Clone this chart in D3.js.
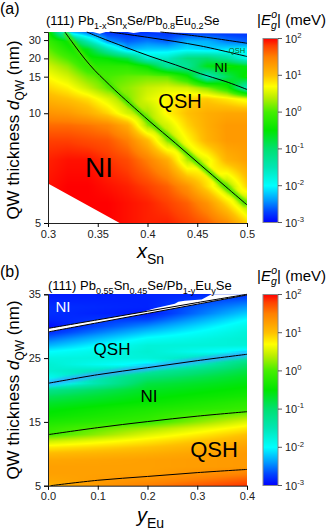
<!DOCTYPE html>
<html lang="en">
<head>
<meta charset="utf-8">
<script src="https://cdn.jsdelivr.net/npm/d3@7"></script>
<style>
  body { margin: 0; background: #fff; }
  svg { display: block; font-family: "Liberation Sans", Arial, sans-serif; }
</style>
</head>
<body>
<div id="chart"></div>
<script>
// colour map: log10 |Eg| (meV) -> colour
var cmapStops  = [-3, -2.7, -2.4, -2.0, -1.5, -1.0, -0.5, 0, 0.4, 0.7, 1.0, 1.5, 1.8, 2.0];
var cmapColors = ["#0000ff","#0044ff","#0099ff","#00ffff","#00e6b4","#00e070","#00e600",
                  "#44ee00","#bbee00","#ffff00","#ffc000","#ff8000","#ff4000","#ff0000"];
var cbarExps = [2, 1, 0, -1, -2, -3];

// ---- panel (a): log10|Eg| on x_Sn x d_QW grid ----
var xSnCols = [0.30, 0.32, 0.34, 0.36, 0.38, 0.40, 0.42, 0.44, 0.46, 0.48, 0.50];
var dRowsA  = [5, 5.5, 6, 7, 8, 9, 10, 11.5, 13, 15, 17.5, 20, 24, 29, 38.5];
var gapA = [
  [2.0, 2.0, 2.0, 2.0, 1.95, 1.9, 1.9, 1.8, 1.65, 1.4, 0.9],        // d=5
  [2.0, 2.0, 2.0, 2.0, 1.95, 1.9, 1.8, 1.65, 1.35, 0.85, 0.3],      // 5.5
  [1.95, 2.0, 2.0, 1.95, 1.9, 1.8, 1.65, 1.35, 0.85, 0.3, 0.9],     // 6
  [1.9, 1.95, 1.95, 1.85, 1.75, 1.5, 1.15, 0.4, 0.6, 1.1, 1.25],    // 7
  [1.8, 1.8, 1.75, 1.7, 1.5, 1.05, 0.3, 0.7, 1.1, 1.3, 1.3],        // 8
  [1.6, 1.6, 1.55, 1.45, 1.15, 0.3, 0.5, 0.9, 1.15, 1.3, 1.3],      // 9
  [1.35, 1.3, 1.15, 0.9, 0.5, 0.3, 0.75, 1.0, 1.15, 1.2, 1.2],      // 10
  [1.1, 1.0, 0.85, 0.55, 0.2, 0.55, 0.75, 0.9, 0.95, 0.8, 0.6],     // 11.5
  [0.9, 0.75, 0.45, 0.1, 0.25, 0.45, 0.55, 0.5, 0.2, -0.3, -1.6],   // 13
  [0.7, 0.5, 0.15, 0.0, 0.1, 0.15, 0.1, -0.4, -1.6, -0.9, -0.4],    // 15
  [0.5, 0.25, -0.2, -0.2, -0.2, -0.5, -1.3, -1.3, -0.6, -0.4, -0.6],// 17.5
  [0.3, 0.0, -0.4, -0.5, -0.8, -1.7, -1.6, -1.1, -1.0, -1.3, -1.9], // 20
  [0.1, -0.3, -0.6, -1.5, -2.3, -2.2, -2.2, -2.1, -2.2, -2.1, -2.0],// 24
  [-0.1, -0.5, -1.5, -2.4, -2.6, -2.5, -2.6, -2.3, -2.3, -2.5, -2.6],// 29
  [-0.3, -2.2, -2.6, -2.8, -2.8, -2.8, -2.8, -2.8, -2.8, -2.8, -2.8] // 38.5
];
// band-inversion lines (x_Sn, d_QW)
var linesA = [
  [[0.317,38.5],[0.327,25.9],[0.337,19.8],[0.347,16.4],[0.357,14.3],[0.367,12.7],
   [0.382,10.98],[0.4025,9.29],[0.428,7.86],[0.453,6.81],[0.478,6.01],[0.5,5.45]],
  [[0.339,38.5],[0.352,32.4],[0.377,25.3],[0.4025,20.8],[0.428,17.9],[0.453,15.65],[0.478,14.1],[0.5,12.77]],
  [[0.362,38.5],[0.4025,32.1],[0.453,25.9],[0.5,20.7]],
  [[0.413,38.5],[0.453,33.3],[0.5,27.6]]
];
var haloA = ["#3fe600", null, null, null];
// regions without data
var blankA = [
  [[0.3,6.1],[0.372,5],[0.3,5]],
  [[0.345,38.5],[0.352,36.4],[0.358,38.5]],
  [[0.380,38.5],[0.386,37.2],[0.393,38.5]],
  [[0.40,38.5],[0.45,37.0],[0.5,36.6],[0.5,38.5]]
];

// ---- panel (b): log10|Eg| on y_Eu x d_QW grid ----
var yEuCols = [0.0, 0.2, 0.4];
var dRowsB = [5,6,7,8,9,10,11,12,13,14,15,16,17,18,19,20,21,22,23,24,25,26,27,28,29,30,31,32,33,34,35];
var gapB = [
  [1.1, 1.5, 1.85], [1.2, 1.35, 1.65], [1.25, 1.25, 1.45], [1.25, 1.25, 1.3], [1.2, 1.25, 1.3],
  [1.05, 1.15, 1.3], [0.8, 1.0, 1.25], [0.45, 0.8, 1.15], [-0.05, 0.55, 1.0], [-0.15, 0.3, 0.8],
  [-0.3, -0.1, 0.55], [-0.45, -0.2, 0.25], [-0.55, -0.3, -0.1], [-0.7, -0.45, -0.2], [-0.9, -0.55, -0.35],
  [-1.2, -0.65, -0.45], [-2.1, -0.8, -0.55], [-1.9, -1.05, -0.65], [-1.7, -1.4, -0.8], [-1.7, -2.1, -1.0],
  [-1.8, -1.75, -1.4], [-2.0, -1.7, -2.1], [-2.3, -1.75, -1.75], [-2.55, -1.95, -1.7], [-2.8, -2.2, -1.75],
  [-2.95, -2.45, -1.85], [-2.85, -2.7, -2.0], [-2.8, -2.9, -2.2], [-2.8, -2.85, -2.4], [-2.85, -2.85, -2.6],
  [-2.9, -2.85, -2.8]
];
var linesB = [
  [[0.005,5.0],[0.1,5.85],[0.2,6.45],[0.3,7.05],[0.4,7.55]],
  [[0.0,13.0],[0.1,14.1],[0.2,15.05],[0.3,15.9],[0.4,16.6]],
  [[0.0,21.05],[0.1,22.4],[0.2,23.5],[0.3,24.6],[0.4,25.6]],
  [[0.0,29.1],[0.1,30.55],[0.2,32.0],[0.3,33.45],[0.4,34.9]],
  [[0.0,29.65],[0.1,31.0],[0.2,32.35],[0.3,33.7],[0.4,35.0]]
];
var haloB = [null, null, "#33aaff", null, null];
var blankB = [
  [[0.188,32.18],[0.215,32.8],[0.255,33.5],[0.262,33.84],[0.275,34.0],[0.309,34.2],
   [0.322,34.73],[0.329,35],[0.4,35],[0.3,33.7],[0.2,32.35]]
];

var W = 332, H = 530;
var svg = d3.select("#chart").append("svg").attr("width", W).attr("height", H);
var defs = svg.append("defs");
defs.append("filter").attr("id", "soft").attr("x", "-20%").attr("y", "-20%").attr("width", "140%").attr("height", "140%")
  .append("feGaussianBlur").attr("stdDeviation", 1.6);

var color = d3.scaleLinear().domain(cmapStops).range(cmapColors).clamp(true);

function richText(sel, parts, size) {
  var cur = 0;
  parts.forEach(function(p) {
    var t = sel.append("tspan").text(p.t);
    var shift = p.sub ? size * 0.3 : (p.sup ? -size * 0.42 : 0);
    if (shift - cur !== 0) t.attr("dy", shift - cur);
    cur = shift;
    if (p.sub || p.sup) t.attr("font-size", size * 0.7);
    if (p.i) t.attr("font-style", "italic");
    if (p.dx) t.attr("dx", p.dx);
  });
}

function drawHeat(g, xs, ds, grid, x, y) {
  var x0 = Math.round(x.range()[0]), x1 = Math.round(x.range()[1]);
  var yTop = Math.round(y.range()[1]), yBot = Math.round(y.range()[0]);
  var w = x1 - x0, h = yBot - yTop;
  var cx = xs.map(x), ry = ds.map(y);
  var cv = document.createElement("canvas");
  cv.width = w; cv.height = h;
  var ctx = cv.getContext("2d");
  var img = ctx.createImageData(w, h);
  for (var j = 0; j < h; j++) {
    var py = yTop + j + 0.5;
    var i = 0;
    while (i < ry.length - 2 && ry[i + 1] > py) i++;
    var t = Math.max(0, Math.min(1, (ry[i] - py) / (ry[i] - ry[i + 1])));
    for (var k = 0; k < w; k++) {
      var px = x0 + k + 0.5;
      var c = 0;
      while (c < cx.length - 2 && cx[c + 1] < px) c++;
      var u = Math.max(0, Math.min(1, (px - cx[c]) / (cx[c + 1] - cx[c])));
      var v = (1 - t) * ((1 - u) * grid[i][c] + u * grid[i][c + 1]) +
              t * ((1 - u) * grid[i + 1][c] + u * grid[i + 1][c + 1]);
      var col = d3.rgb(color(v));
      var o = (j * w + k) * 4;
      img.data[o] = col.r; img.data[o + 1] = col.g; img.data[o + 2] = col.b; img.data[o + 3] = 255;
    }
  }
  ctx.putImageData(img, 0, 0);
  g.append("image").attr("x", x0).attr("y", yTop).attr("width", w).attr("height", h)
    .attr("href", cv.toDataURL());
}

function drawBlank(g, polys, x, y) {
  var line = d3.line().x(function(d) { return x(d[0]); }).y(function(d) { return y(d[1]); });
  polys.forEach(function(p) {
    g.append("path").datum(p).attr("d", line).attr("fill", "#fff");
  });
}

function drawColorbar(id, top, bottom) {
  var grad = defs.append("linearGradient").attr("id", id)
    .attr("x1", 0).attr("y1", 1).attr("x2", 0).attr("y2", 0);
  cmapStops.forEach(function(s, i) {
    grad.append("stop").attr("offset", (s + 3) / 5).attr("stop-color", cmapColors[i]);
  });
  svg.append("rect").attr("x", 263).attr("y", top).attr("width", 15).attr("height", bottom - top)
    .attr("fill", "url(#" + id + ")").attr("stroke", "#8a8a8a").attr("stroke-width", 1);
  var cs = d3.scaleLinear().domain([-3, 2]).range([bottom, top]);
  cbarExps.forEach(function(e) {
    svg.append("line").attr("x1", 278).attr("x2", 282).attr("y1", cs(e)).attr("y2", cs(e))
      .attr("stroke", "#333").attr("stroke-width", 0.8);
    var t = svg.append("text").attr("x", 285).attr("y", cs(e) + 4).attr("font-size", 11).attr("fill", "#222");
    richText(t, [{t: "10"}, {t: String(e), sup: true}], 11);
  });
  var tt = svg.append("text").attr("x", 257).attr("y", top - 14).attr("font-size", 15);
  richText(tt, [{t: "|"}, {t: "E", i: true}, {t: "g", sub: true, i: true}, {t: "o", sup: true, i: true, dx: -5.5},
                {t: "| (meV)"}], 15);
}

function drawAxes(x, y, xMajor, xMinor, xFmt, yMajor, yMinor) {
  var yB = y.range()[0], xL = x.range()[0];
  var gx = svg.append("g").attr("transform", "translate(0," + yB + ")");
  gx.call(d3.axisBottom(x).tickValues(xMinor).tickSize(2.5).tickFormat(""));
  gx.call(d3.axisBottom(x).tickValues(xMajor).tickSize(4).tickFormat(xFmt).tickPadding(3));
  var gy = svg.append("g").attr("transform", "translate(" + xL + ",0)");
  gy.call(d3.axisLeft(y).tickValues(yMinor).tickSize(2.5).tickFormat(""));
  gy.call(d3.axisLeft(y).tickValues(yMajor).tickSize(4).tickFormat(d3.format("d")).tickPadding(3));
  svg.selectAll(".domain").attr("stroke", "#222");
  svg.selectAll(".tick text").attr("font-size", 11).attr("font-family", "Liberation Sans, Arial, sans-serif").attr("fill", "#222");
}

function drawLines(g, lines, halos, x, y, clipId) {
  var line = d3.line().x(function(d) { return x(d[0]); }).y(function(d) { return y(d[1]); })
    .curve(d3.curveCatmullRom);
  var x0 = x.range()[0], x1 = x.range()[1], yt = y.range()[1], yb = y.range()[0];
  defs.append("clipPath").attr("id", clipId).append("rect")
    .attr("x", x0).attr("y", yt).attr("width", x1 - x0).attr("height", yb - yt);
  var hg = g.append("g").attr("clip-path", "url(#" + clipId + ")");
  lines.forEach(function(l, i) {
    if (halos[i]) {
      hg.append("path").datum(l).attr("d", line).attr("fill", "none").attr("stroke", halos[i])
        .attr("stroke-width", 6).attr("opacity", 0.85).attr("filter", "url(#soft)");
    }
  });
  lines.forEach(function(l) {
    g.append("path").datum(l).attr("d", line).attr("fill", "none").attr("stroke", "#000").attr("stroke-width", 1);
  });
}

// ---------- panel (a) ----------
var xA = d3.scaleLinear().domain([0.3, 0.5]).range([48, 247]);
var yA = d3.scalePow().exponent(-1).domain([5, 38.5]).range([223, 32]);
var gA = svg.append("g");
drawHeat(gA, xSnCols, dRowsA, gapA, xA, yA);
drawBlank(gA, blankA, xA, yA);
drawLines(gA, linesA, haloA, xA, yA, "clipA");
drawAxes(xA, yA, [0.3, 0.35, 0.4, 0.45, 0.5], d3.range(0.31, 0.5, 0.01), function(d) { return String(+d.toFixed(2)); },
         [5, 10, 15, 20, 30], [7.5, 12.5, 17.5, 25, 35]);
drawColorbar("cbA", 38.5, 222.5);

svg.append("text").attr("x", 0).attr("y", 14).attr("font-size", 16).text("(a)");
var tA = svg.append("text").attr("x", 46).attr("y", 25).attr("font-size", 13);
richText(tA, [{t: "(111) Pb"}, {t: "1-x", sub: true}, {t: "Sn"}, {t: "x", sub: true}, {t: "Se/Pb"},
              {t: "0.8", sub: true}, {t: "Eu"}, {t: "0.2", sub: true}, {t: "Se"}], 13);
var xlA = svg.append("text").attr("x", 137).attr("y", 258).attr("font-size", 20);
richText(xlA, [{t: "x", i: true}, {t: "Sn", sub: true}], 20);
var ylA = svg.append("text").attr("transform", "translate(19,130) rotate(-90)").attr("text-anchor", "middle").attr("font-size", 17);
richText(ylA, [{t: "QW thickness "}, {t: "d", i: true}, {t: "QW", sub: true}, {t: " (nm)"}], 17);

svg.append("text").attr("x", 99).attr("y", 177).attr("text-anchor", "middle").attr("font-size", 28).text("NI");
svg.append("text").attr("x", 180).attr("y", 108).attr("text-anchor", "middle").attr("font-size", 20).text("QSH");
svg.append("text").attr("x", 221).attr("y", 72).attr("text-anchor", "middle").attr("font-size", 13).text("NI");
svg.append("text").attr("x", 237).attr("y", 53).attr("text-anchor", "middle").attr("font-size", 7.5).attr("fill", "#0b5e20").text("QSH");

// ---------- panel (b) ----------
var xB = d3.scaleLinear().domain([0, 0.4]).range([48, 247]);
var yB = d3.scaleLinear().domain([5, 35]).range([485.7, 294.3]);
var gB = svg.append("g");
drawHeat(gB, yEuCols, dRowsB, gapB, xB, yB);
drawBlank(gB, blankB, xB, yB);
// white strip between the two upper lines
drawBlank(gB, [linesB[3].concat(linesB[4].slice().reverse())], xB, yB);
drawLines(gB, linesB, haloB, xB, yB, "clipB");
drawAxes(xB, yB, [0, 0.1, 0.2, 0.3, 0.4], [0.05, 0.15, 0.25, 0.35], d3.format(".1f"),
         [5, 15, 25, 35], [10, 20, 30]);
drawColorbar("cbB", 294.5, 485.5);

svg.append("text").attr("x", 0).attr("y", 277).attr("font-size", 16).text("(b)");
var tB = svg.append("text").attr("x", 48).attr("y", 290).attr("font-size", 13);
richText(tB, [{t: "(111) Pb"}, {t: "0.55", sub: true}, {t: "Sn"}, {t: "0.45", sub: true}, {t: "Se/Pb"},
              {t: "1-y", sub: true}, {t: "Eu"}, {t: "y", sub: true}, {t: "Se"}], 13);
var xlB = svg.append("text").attr("x", 137).attr("y", 522).attr("font-size", 20);
richText(xlB, [{t: "y", i: true}, {t: "Eu", sub: true}], 20);
var ylB = svg.append("text").attr("transform", "translate(19,390) rotate(-90)").attr("text-anchor", "middle").attr("font-size", 17);
richText(ylB, [{t: "QW thickness "}, {t: "d", i: true}, {t: "QW", sub: true}, {t: " (nm)"}], 17);

svg.append("text").attr("x", 63).attr("y", 312).attr("text-anchor", "middle").attr("font-size", 15).attr("fill", "#fff").text("NI");
svg.append("text").attr("x", 112).attr("y", 355).attr("text-anchor", "middle").attr("font-size", 17).text("QSH");
svg.append("text").attr("x", 149).attr("y", 402).attr("text-anchor", "middle").attr("font-size", 17).text("NI");
svg.append("text").attr("x", 214).attr("y", 457).attr("text-anchor", "middle").attr("font-size", 22).text("QSH");
</script>
</body>
</html>
